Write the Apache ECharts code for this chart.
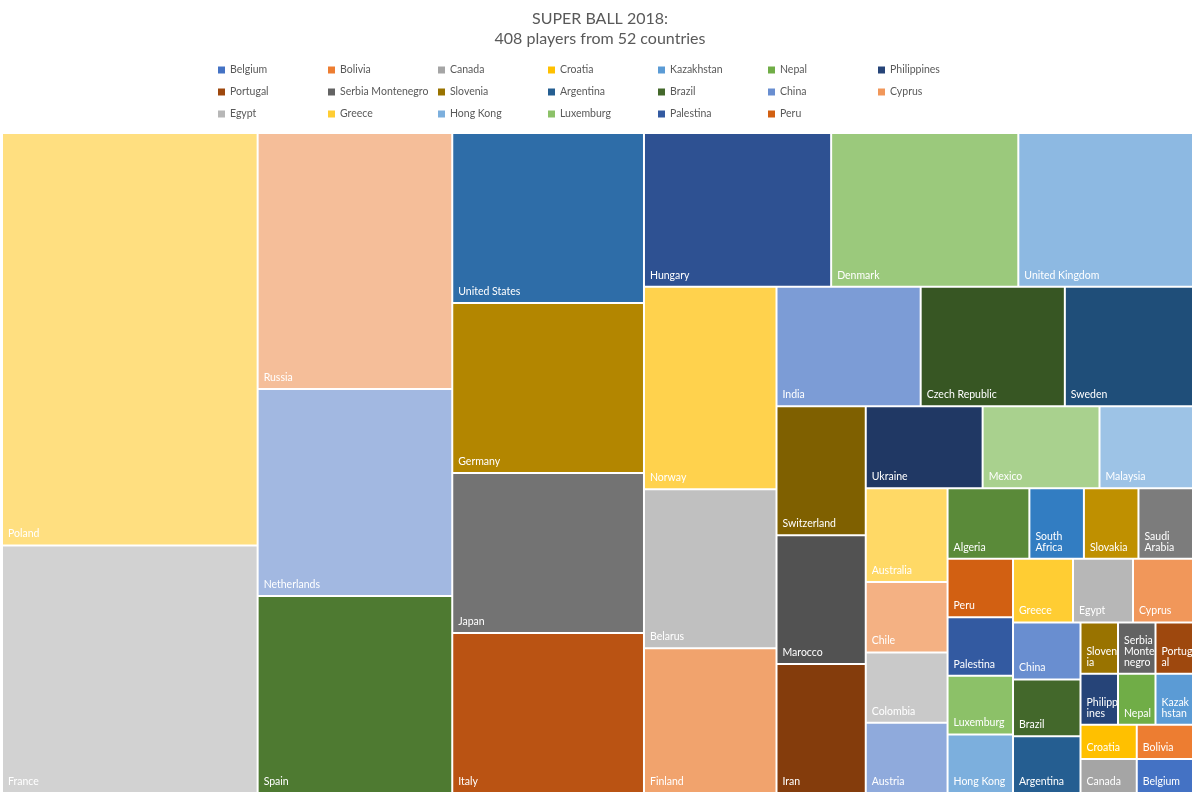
<!DOCTYPE html>
<html>
<head>
<meta charset="utf-8">
<title>SUPER BALL 2018</title>
<script src="https://cdn.jsdelivr.net/npm/echarts@6/dist/echarts.min.js"></script>
<style>
  html, body { margin: 0; padding: 0; background: #fff; }
  #chart { width: 1200px; height: 798px; }
</style>
</head>
<body>
<div id="chart"></div>
<script>
// countries in the order the treemap lays them out (biggest first)
var countries = ['Poland', 'France', 'Russia', 'Netherlands', 'Spain',
  'United States', 'Germany', 'Japan', 'Italy',
  'Hungary', 'Denmark', 'United Kingdom', 'Norway', 'Belarus', 'Finland',
  'India', 'Czech Republic', 'Sweden', 'Switzerland', 'Marocco', 'Iran',
  'Ukraine', 'Mexico', 'Malaysia', 'Australia', 'Chile', 'Colombia', 'Austria',
  'Algeria', 'South Africa', 'Slovakia', 'Saudi Arabia',
  'Peru', 'Palestina', 'Luxemburg', 'Hong Kong', 'Greece', 'Egypt', 'Cyprus',
  'China', 'Brazil', 'Argentina',
  'Slovenia', 'Serbia Montenegro', 'Portugal', 'Philippines', 'Nepal',
  'Kazakhstan', 'Croatia', 'Canada', 'Bolivia', 'Belgium'];

var players = [55, 33, 26, 21, 20,
  17, 17, 16, 16,
  15, 15, 14, 14, 11, 10,
  9, 9, 8, 6, 6, 6,
  5, 5, 4, 4, 3, 3, 3,
  3, 2, 2, 2,
  2, 2, 2, 2, 2, 2, 2,
  2, 2, 2,
  1, 1, 1, 1, 1,
  1, 1, 1, 1, 1];

// the legend only shows the first 20 entries of the sheet
var legendNames = ['Belgium', 'Bolivia', 'Canada', 'Croatia', 'Kazakhstan', 'Nepal', 'Philippines',
  'Portugal', 'Serbia Montenegro', 'Slovenia', 'Argentina', 'Brazil', 'China', 'Cyprus',
  'Egypt', 'Greece', 'Hong Kong', 'Luxemburg', 'Palestina', 'Peru'];

// office palette, shades picked per country
var colors = {
  'Poland': '#FFDF80', 'France': '#D2D2D2', 'Russia': '#F5BE99', 'Netherlands': '#A2B8E1',
  'Spain': '#4E7A31', 'United States': '#2E6DA8', 'Germany': '#B38600', 'Japan': '#737373',
  'Italy': '#BA5313', 'Hungary': '#2E5192', 'Denmark': '#9BC97C', 'United Kingdom': '#8DB9E2',
  'Norway': '#FFD24D', 'Belarus': '#C0C0C0', 'Finland': '#F1A36D', 'India': '#7C9CD6',
  'Czech Republic': '#375623', 'Sweden': '#1F4E79', 'Switzerland': '#7F6000', 'Marocco': '#525252',
  'Iran': '#843C0C', 'Ukraine': '#203864', 'Mexico': '#A9D18E', 'Malaysia': '#9DC3E6',
  'Australia': '#FFD966', 'Chile': '#F4B183', 'Colombia': '#C9C9C9', 'Austria': '#8FAADC',
  'Algeria': '#5A8A39', 'South Africa': '#327DC2', 'Slovakia': '#BF9000', 'Saudi Arabia': '#7C7C7C',
  'Peru': '#D26012', 'Palestina': '#335AA1', 'Luxemburg': '#8CC168', 'Hong Kong': '#7CAFDD',
  'Greece': '#FFCD33', 'Egypt': '#B7B7B7', 'Cyprus': '#F1975A', 'China': '#698ED0',
  'Brazil': '#43682B', 'Argentina': '#255E91', 'Slovenia': '#997300', 'Serbia Montenegro': '#636363',
  'Portugal': '#9E480E', 'Philippines': '#264478', 'Nepal': '#70AD47', 'Kazakhstan': '#5B9BD5',
  'Croatia': '#FFC000', 'Canada': '#A5A5A5', 'Bolivia': '#ED7D31', 'Belgium': '#4472C4'
};

var myChart = echarts.init(document.getElementById('chart'));

var treeData = countries.map(function (name, i) {
  return { name: name, value: players[i], itemStyle: { color: colors[name] } };
});

// treemap has no legend of its own, so empty series carry the legend entries
var legendSeries = legendNames.map(function (name) {
  return {
    name: name,
    type: 'line',
    data: [],
    itemStyle: { color: colors[name] },
    lineStyle: { color: colors[name] }
  };
});

var option = {
  animation: false,
  title: {
    text: 'SUPER BALL 2018:\n408 players from 52 countries',
    left: 'center',
    top: 4,
    textStyle: {
      fontFamily: 'Lato',
      fontSize: 16,
      fontWeight: 'normal',
      color: '#595959',
      lineHeight: 20
    }
  },
  legend: {
    data: legendNames,
    left: 218,
    top: 63,
    width: 775,
    padding: 0,
    icon: 'rect',
    itemWidth: 7,
    itemHeight: 7,
    itemGap: 8,
    selectedMode: false,
    textStyle: {
      fontFamily: 'Lato',
      fontSize: 10.5,
      color: '#595959',
      width: 90,
      lineHeight: 14,
      backgroundColor: 'transparent'
    }
  },
  grid: { show: false, left: 0, top: 0, width: 10, height: 10 },
  xAxis: { type: 'category', show: false },
  yAxis: { type: 'value', show: false },
  series: legendSeries.concat([{
    type: 'treemap',
    name: 'players',
    left: 3,
    top: 134,
    width: 1189,
    height: 658,
    sort: false,
    squareRatio: 0.93,
    roam: false,
    nodeClick: false,
    breadcrumb: { show: false },
    silent: true,
    levels: [{
      itemStyle: { borderWidth: 0, gapWidth: 2, borderColor: '#fff' }
    }],
    label: {
      show: true,
      position: 'insideBottomLeft',
      distance: 3,
      padding: 2,
      color: '#fff',
      fontFamily: 'Lato',
      fontSize: 10.5,
      overflow: 'break'
    },
    data: treeData
  }])
};

myChart.setOption(option);
</script>
</body>
</html>
